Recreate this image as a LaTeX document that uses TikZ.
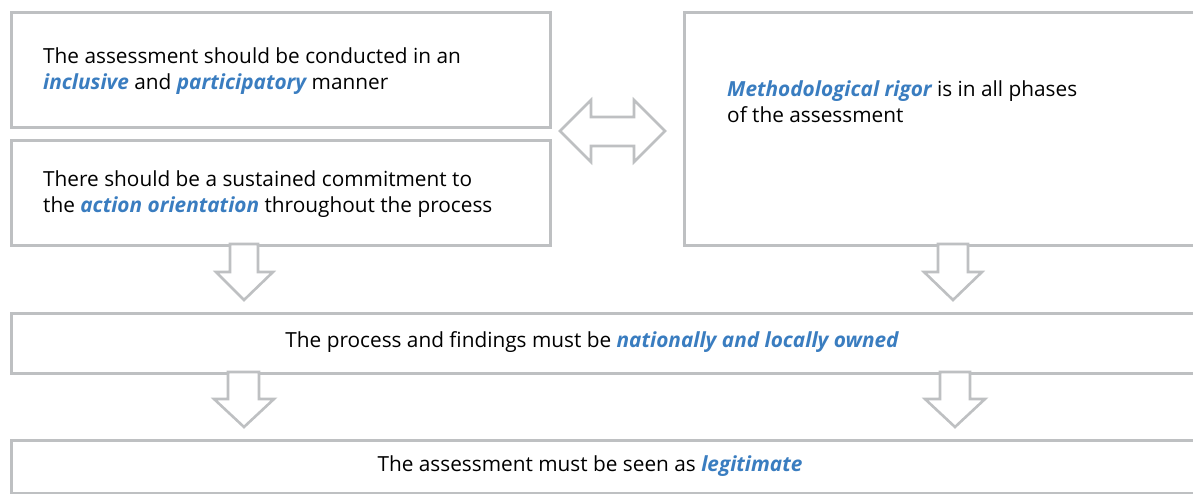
\documentclass[tikz,border=0pt]{standalone}
\usepackage{fontspec}
\setmainfont{Open Sans}
\usepackage{xcolor}
\definecolor{boxgray}{RGB}{190,192,194}
\definecolor{hlblue}{RGB}{58,125,192}
\newcommand{\hl}[1]{\textcolor{hlblue}{\bfseries\itshape #1}}
\begin{document}
\begin{tikzpicture}[x=1pt,y=-1pt,
  boxst/.style={draw=boxgray,line width=2.6pt,fill=white,inner sep=0pt},
  txt/.style={inner sep=0pt,align=left,font=\fontsize{20.8}{26}\selectfont},
  blockarrow/.style={draw=boxgray,line width=2.6pt,fill=white,line join=miter}]
\useasboundingbox (0,0) rectangle (1193,494);
\clip (0,0) rectangle (1193,494);
% boxes
\node[boxst,anchor=north west,minimum width=539pt,minimum height=115pt] (b1) at (10,11) {};
\node[boxst,anchor=north west,minimum width=539pt,minimum height=105pt] (b2) at (10,139) {};
\node[boxst,anchor=north west,minimum width=530pt,minimum height=233pt] (b3) at (683,11) {};
\node[boxst,anchor=north west,minimum width=1200pt,minimum height=60pt] (b4) at (10,312) {};
\node[boxst,anchor=north west,minimum width=1200pt,minimum height=52.5pt] (b5) at (10,439) {};
% texts
\node[txt,anchor=west] (t1) at (43,71) {The assessment should be conducted in an\\\hl{inclusive} and \hl{participatory} manner};
\node[txt,anchor=west] (t2) at (43,194) {There should be a sustained commitment to\\the \hl{action orientation} throughout the process};
\node[txt,anchor=west] (t3) at (727,102) {\hl{Methodological rigor} is in all phases\\of the assessment};
\node[txt] (t4) at (592,342) {The process and findings must be \hl{nationally and locally owned}};
\node[txt] (t5) at (590,466) {The assessment must be seen as \hl{legitimate}};
% double arrow between b1/b2 and b3
\draw[blockarrow] (560,131) -- (591,100) -- (591,117) -- (634,117) -- (634,100) -- (665,131)
  -- (634,162) -- (634,146) -- (591,146) -- (591,162) -- cycle;
% down arrows b2 -> b4, b3 -> b4
\draw[blockarrow] (230,244) -- (258,244) -- (258,272) -- (273,272) -- (244,300) -- (216,272) -- (230,272) -- cycle;
\draw[blockarrow] (938,244) -- (968,244) -- (968,272) -- (982,272) -- (953,300) -- (924,272) -- (938,272) -- cycle;
% down arrows b4 -> b5
\draw[blockarrow] (228,372) -- (259,372) -- (259,399) -- (274,399) -- (244,427) -- (214,399) -- (228,399) -- cycle;
\draw[blockarrow] (940,372) -- (970,372) -- (970,399) -- (985,399) -- (955,427) -- (925,399) -- (940,399) -- cycle;
\end{tikzpicture}
\end{document}
